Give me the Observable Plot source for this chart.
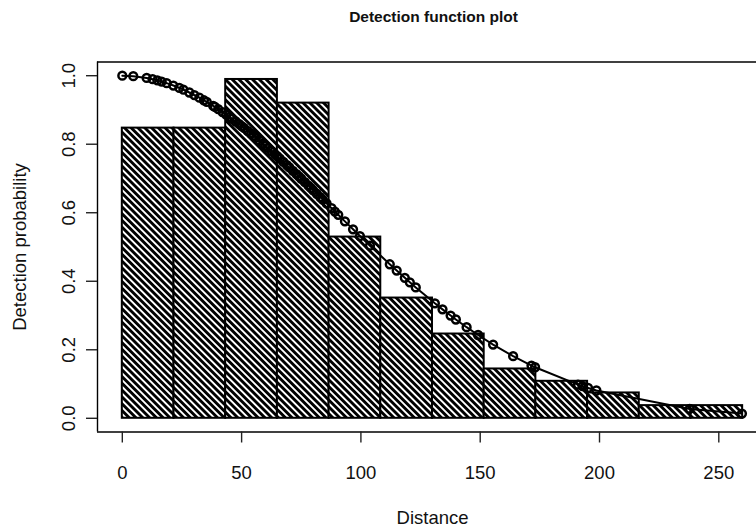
<!DOCTYPE html>
<html>
<head>
<meta charset="utf-8">
<script src="https://cdn.jsdelivr.net/npm/d3@7"></script>
<script src="https://cdn.jsdelivr.net/npm/@observablehq/plot@0.6"></script>
<style>
  html, body { margin: 0; padding: 0; background: white; }
  #chart { width: 756px; height: 529px; overflow: hidden; }
</style>
</head>
<body>
<div id="chart"></div>
<script>
// ---- data ----
const title = "Detection function plot";
const xLabel = "Distance";
const yLabel = "Detection probability";
const xTicks = [0, 50, 100, 150, 200, 250];
const yTicks = [0, 0.2, 0.4, 0.6, 0.8, 1.0];
const yTickLabels = ["0.0", "0.2", "0.4", "0.6", "0.8", "1.0"];

// histogram bins (distance breakpoints) and scaled heights
const binEdges = [0, 21.67, 43.33, 65, 86.67, 108.33, 130, 151.67, 173.33, 195, 216.67, 238.33, 260];
const binHeights = [0.847, 0.847, 0.989, 0.920, 0.529, 0.351, 0.246, 0.144, 0.108, 0.074, 0.037, 0.037];

// observed distances and fitted detection probabilities
const distances = [0, 4.6, 10.2, 12.7, 14.7, 16.5, 18.6, 21.4, 23.9, 25.6, 28.1, 30.2, 32.3, 34.2, 35.4,
  38.1, 38.8, 40.2, 42, 43.5, 45, 46, 47.5, 49, 50, 51, 52.5, 54, 55, 56, 57.5, 59, 60, 61, 62.5, 64,
  65, 66, 67.5, 69, 70, 71.5, 73, 74, 75, 76.5, 78, 79, 80, 81.5, 83, 84, 85.6, 87.7, 89.1, 90.5, 93.3,
  96.7, 99.6, 103.8, 112.1, 115, 118.4, 120.5, 123, 131, 134.2, 137.6, 139.8, 144.3, 149.1, 155.4,
  163.8, 171.5, 173, 191, 192.9, 195.2, 198.7, 237.8, 259.7];
const detProb = [1.000, 0.9987, 0.9934, 0.9898, 0.9863, 0.9828, 0.9782, 0.9713, 0.9643, 0.9592, 0.9510,
  0.9436, 0.9358, 0.9283, 0.9234, 0.9118, 0.9087, 0.9023, 0.8938, 0.8866, 0.8791, 0.8741, 0.8663, 0.8584,
  0.8530, 0.8475, 0.8392, 0.8307, 0.8250, 0.8191, 0.8103, 0.8014, 0.7953, 0.7892, 0.7800, 0.7706, 0.7643,
  0.7580, 0.7484, 0.7387, 0.7322, 0.7224, 0.7125, 0.7059, 0.6992, 0.6892, 0.6791, 0.6723, 0.6656, 0.6554,
  0.6452, 0.6383, 0.6274, 0.6131, 0.6035, 0.5940, 0.5748, 0.5517, 0.5320, 0.5039, 0.4496, 0.4311, 0.4099,
  0.3970, 0.3820, 0.3357, 0.3180, 0.2999, 0.2884, 0.2659, 0.2431, 0.2152, 0.1814, 0.1540, 0.1490, 0.0982,
  0.0937, 0.0886, 0.0811, 0.0274, 0.0137];

// ---- tables for the library ----
const bins = binHeights.map((h, i) => ({x1: binEdges[i], x2: binEdges[i + 1], h}));
const pts = distances.map((d, i) => ({d, g: detProb[i]}));

const xDomain = [-10.4, 265.8];
const yDomain = [-0.04, 1.04];
const font = "'Liberation Sans', Arial, Helvetica, sans-serif";
const ink = "#111";

const chart = Plot.plot({
  width: 756,
  height: 529,
  marginLeft: 97,
  marginRight: 0,
  marginTop: 61.5,
  marginBottom: 97.5,
  x: {domain: xDomain, axis: null},
  y: {domain: yDomain, axis: null},
  style: {fontFamily: font, fontSize: "18.5px", background: "white", color: ink},
  marks: [
    Plot.rectY(bins, {x1: "x1", x2: "x2", y1: 0, y2: "h", fill: "url(#hatch)", stroke: "#000", strokeWidth: 2}),
    Plot.line(pts, {x: "d", y: "g", stroke: "#000", strokeWidth: 2}),
    Plot.dot(pts, {x: "d", y: "g", r: 3.9, stroke: "#000", strokeWidth: 2.5, fill: "none"}),
    Plot.ruleX([xDomain[0]], {stroke: "#000", strokeWidth: 1.4}),
    Plot.ruleY(yDomain, {stroke: "#000", strokeWidth: 1.4}),
    Plot.axisX(xTicks, {anchor: "bottom", tickSize: 11, tickFormat: () => "", label: null, stroke: "#222", strokeWidth: 1.4}),
    Plot.axisY(yTicks, {anchor: "left", tickSize: 11, tickFormat: () => "", label: null, stroke: "#222", strokeWidth: 1.4}),
    Plot.text(xTicks, {x: d => d, text: d => String(d), frameAnchor: "bottom", dy: 46.5, lineAnchor: "bottom", fill: ink, fontSize: 18.5}),
    Plot.text(yTicks, {y: d => d, text: (d, i) => yTickLabels[i], frameAnchor: "left", dx: -23, rotate: -90, textAnchor: "middle", lineAnchor: "bottom", fill: ink, fontSize: 18.5}),
    Plot.text([yLabel], {text: d => d, frameAnchor: "left", dx: -72, rotate: -90, textAnchor: "middle", lineAnchor: "bottom", fill: ink, fontSize: 18.5}),
    Plot.text([xLabel], {text: d => d, frameAnchor: "bottom", dx: 5.5, dy: 91.5, lineAnchor: "bottom", fill: ink, fontSize: 18.5}),
    Plot.text([title], {text: d => d, frameAnchor: "top", dx: 6.5, dy: -40.5, lineAnchor: "bottom", fill: ink, fontSize: 15.5, fontWeight: "bold"})
  ]
});

// hatch pattern (diagonal "\\" lines) for the histogram bars
const svgSel = d3.select(chart.tagName.toLowerCase() === "svg" ? chart : chart.querySelector("svg"));
const pat = svgSel.insert("defs", ":first-child")
  .append("pattern")
  .attr("id", "hatch")
  .attr("patternUnits", "userSpaceOnUse")
  .attr("width", 4.8)
  .attr("height", 4.8)
  .attr("patternTransform", "rotate(-45)");
pat.append("rect").attr("width", 4.8).attr("height", 4.8).attr("fill", "white");
pat.append("line").attr("x1", 2.4).attr("y1", -1).attr("x2", 2.4).attr("y2", 5.8)
  .attr("stroke", "#000").attr("stroke-width", 2.3).attr("shape-rendering", "crispEdges");

document.getElementById("chart").appendChild(chart);
</script>
</body>
</html>
